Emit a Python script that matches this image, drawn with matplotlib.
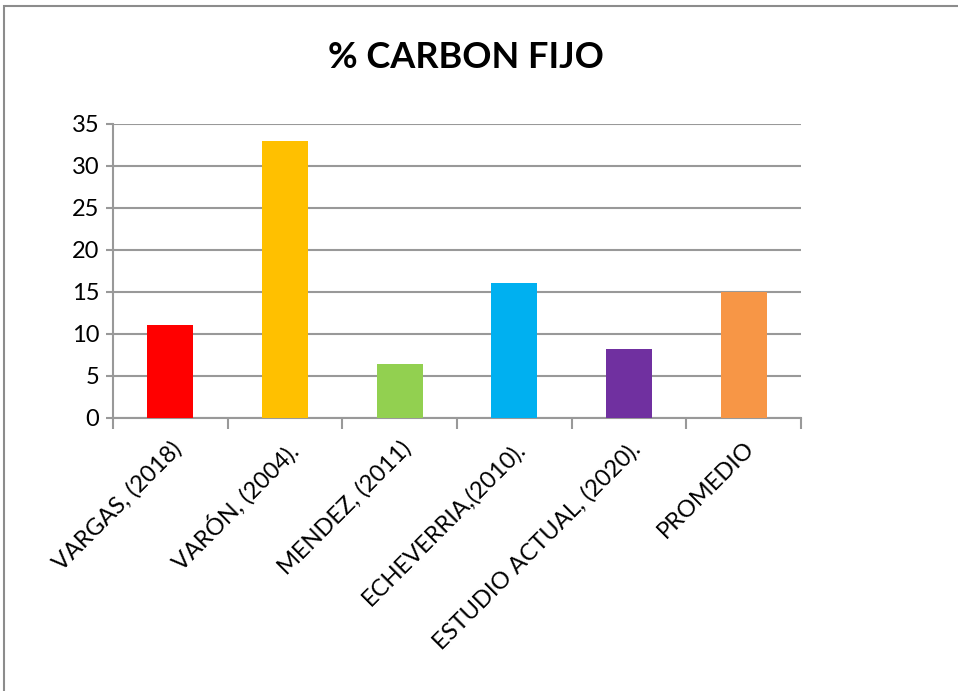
import matplotlib.pyplot as plt
from matplotlib.patches import Rectangle

categories = ['VARGAS, (2018)', 'VARÓN, (2004).', 'MENDEZ, (2011)',
              'ECHEVERRIA,(2010).', 'ESTUDIO ACTUAL, (2020).', 'PROMEDIO']
values = [11.1, 33.0, 6.4, 16.1, 8.2, 15.0]
colors = ['#ff0000', '#ffc000', '#92d050', '#00b0f0', '#7030a0', '#f79646']

plt.rcParams['font.family'] = ['Lato', 'DejaVu Sans']

fig = plt.figure(figsize=(9.58, 6.91), dpi=100)
fig.patches.append(Rectangle((4 / 958, -0.1), 1.2, 1 - 6 / 691 + 0.1,
                             transform=fig.transFigure, fill=False,
                             edgecolor='#8c8c8c', linewidth=1.5))

ax = fig.add_axes([113 / 958, 1 - 418 / 691, 688 / 958, 294 / 691])
x = range(len(categories))
ax.bar(x, values, width=0.4, color=colors, zorder=3)

ax.set_xlim(-0.5, len(categories) - 0.5)
ax.set_ylim(0, 35)
ax.set_yticks(range(0, 36, 5))
ax.yaxis.grid(True, color='#999999', linewidth=1.5, zorder=0)
for s in ['top', 'right']:
    ax.spines[s].set_visible(False)
for s in ['left', 'bottom']:
    ax.spines[s].set_color('#999999')
    ax.spines[s].set_linewidth(1.5)

ax.set_xticks([i - 0.5 for i in range(len(categories) + 1)])
ax.set_xticklabels([])
ax.set_xticks(list(x), minor=True)
ax.set_xticklabels(categories, minor=True, rotation=45, ha='right', va='top',
                   rotation_mode='anchor', fontsize=17)
ax.tick_params(axis='x', which='major', length=8, width=1.5, color='#999999')
ax.tick_params(axis='x', which='minor', length=0, pad=14)
ax.tick_params(axis='y', length=5, width=1.5, color='#999999', labelsize=17, pad=5)

fig.text(466 / 958, 1 - 58 / 691, '% CARBON FIJO', ha='center', va='center',
         fontsize=26, fontweight='bold')

fig.savefig('out.png', dpi=100)
